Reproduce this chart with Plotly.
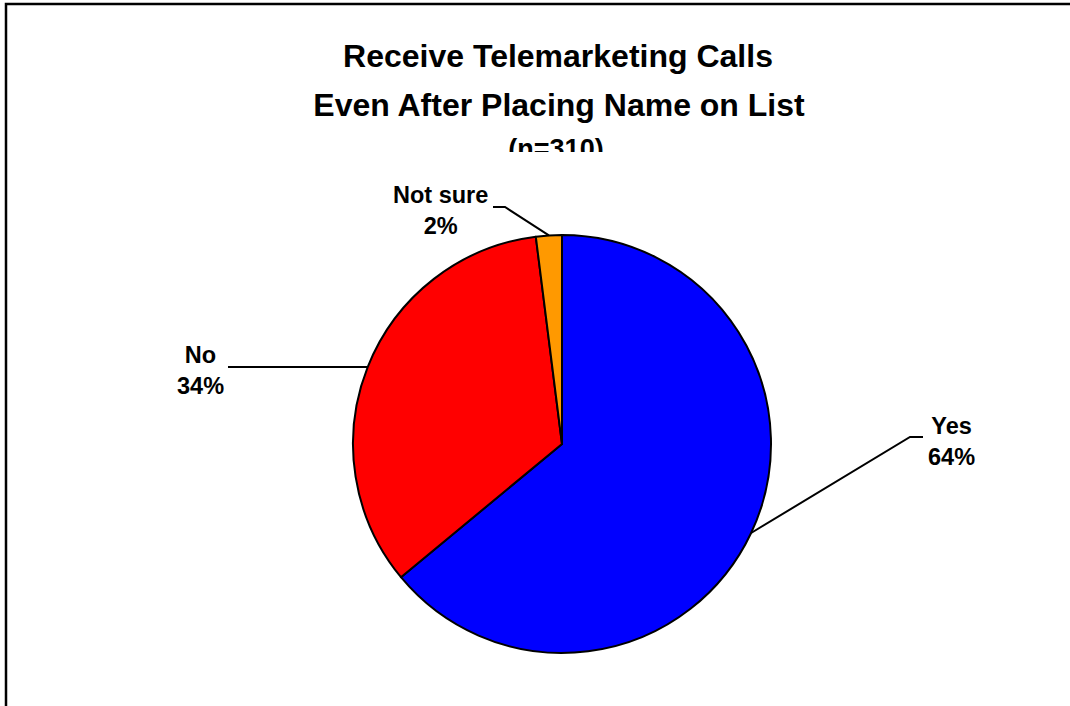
import math
import plotly.graph_objects as go

# Survey answers
labels = ["Yes", "No", "Not sure"]
shares = [64, 34, 2]
colors = ["#0000FF", "#FF0000", "#FF9900"]

title_lines = ["Receive Telemarketing Calls", "Even After Placing Name on List", "(n=310)"]
title_sizes = [32, 32, 27]

W, H = 1070, 706
CX, CY, R = 562, 444, 209          # pie centre and radius in pixels
TITLE_CLIP = 152                    # title block is cut off at this pixel row
FONT = "Liberation Sans, Arial, sans-serif"

# callout layout per slice: optional elbow, end of leader line, label centre (pixels)
callouts = {
    "Yes": dict(elbow=(910, 437), end=(923, 437), text=(951, 441)),
    "No": dict(elbow=None, end=(228, 367), text=(200, 370)),
    "Not sure": dict(elbow=(505, 207), end=(493, 207), text=(440, 210)),
}


def px(x):
    return x / W


def py(y):
    return 1 - y / H


fig = go.Figure()

fig.add_trace(go.Pie(
    labels=labels,
    values=shares,
    sort=False,
    direction="clockwise",
    rotation=0,
    marker=dict(colors=colors, line=dict(color="black", width=2)),
    textinfo="none",
    hoverinfo="label+percent",
    showlegend=False,
    domain=dict(x=[px(CX - R), px(CX + R)], y=[py(CY + R), py(CY - R)]),
))

# Title lines as clipped text so the last line is cut at the title box edge
fig.add_trace(go.Scatter(
    x=[558, 559, 556],
    y=[59, 108, 151],
    text=title_lines,
    mode="text",
    textposition="middle center",
    textfont=dict(family=FONT, size=title_sizes, color="black", weight="bold"),
    cliponaxis=True,
    hoverinfo="skip",
    showlegend=False,
    xaxis="x", yaxis="y",
))

shapes = []
annotations = []
total = sum(shares)
cum = 0
for lab, val in zip(labels, shares):
    mid = 2 * math.pi * (cum + val / 2) / total
    cum += val
    ex = CX + R * math.sin(mid)
    ey = CY - R * math.cos(mid)
    c = callouts[lab]
    pts = [(ex, ey)]
    if c["elbow"]:
        pts.append(c["elbow"])
    pts.append(c["end"])
    path = "M " + " L ".join(f"{px(x):.5f},{py(y):.5f}" for x, y in pts)
    shapes.append(dict(type="path", xref="paper", yref="paper", path=path,
                       line=dict(color="black", width=2)))
    tx, ty = c["text"]
    annotations.append(dict(
        x=px(tx), y=py(ty), xref="paper", yref="paper",
        text=f"{lab}<br>{val}%", showarrow=False,
        xanchor="center", yanchor="middle", align="center",
        font=dict(family=FONT, size=23.5, color="black", weight="bold"),
    ))

# Outer frame (top and left edges)
shapes.append(dict(type="path", xref="paper", yref="paper",
                   path=f"M {px(6):.5f},0 L {px(6):.5f},{py(4):.5f} L 1,{py(4):.5f}",
                   line=dict(color="black", width=2.5)))

fig.update_layout(
    width=W, height=H,
    autosize=False,
    margin=dict(l=0, r=0, t=0, b=0),
    paper_bgcolor="white",
    plot_bgcolor="rgba(0,0,0,0)",
    xaxis=dict(range=[0, W], domain=[0, 1], visible=False, fixedrange=True),
    yaxis=dict(range=[TITLE_CLIP, 0], domain=[py(TITLE_CLIP), 1], visible=False, fixedrange=True),
    shapes=shapes,
    annotations=annotations,
)

fig.write_html("out.html")
